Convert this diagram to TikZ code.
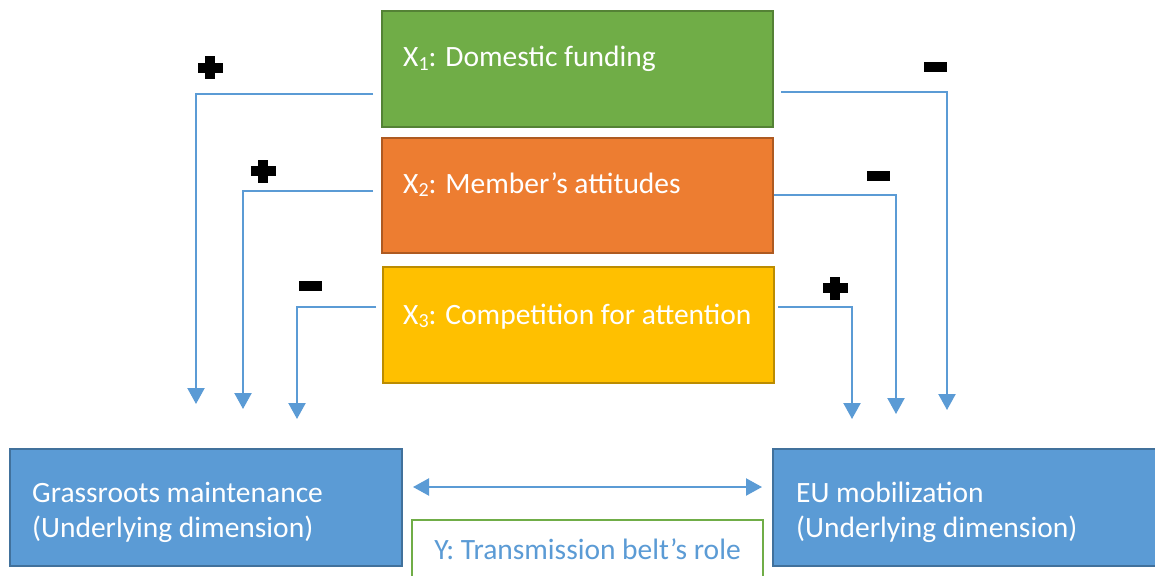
\documentclass[tikz,border=0pt]{standalone}
\usepackage{fontspec}
\setmainfont{Carlito}
\usetikzlibrary{arrows.meta}

\definecolor{fgreen}{HTML}{70AD47}
\definecolor{dgreen}{HTML}{548235}
\definecolor{forange}{HTML}{ED7D31}
\definecolor{dorange}{HTML}{AE5A21}
\definecolor{fyellow}{HTML}{FFC000}
\definecolor{dyellow}{HTML}{BC8C00}
\definecolor{fblue}{HTML}{5B9BD5}
\definecolor{dblue}{HTML}{41719C}

% index of a factor, set low and a little smaller
\newcommand{\factorindex}[1]{\raisebox{-0.13em}{\fontsize{20}{20}\selectfont #1}}

\tikzset{
  factorbox/.style={draw, line width=2.2pt, minimum width=391pt, inner sep=0pt},
  outcomebox/.style={draw=dblue, fill=fblue, line width=2.2pt, inner sep=0pt,
    minimum height=117pt},
  boxtext/.style={text=white, font=\fontsize{29.5}{35}\selectfont, inner sep=0pt,
    anchor=base west, align=left},
  link/.style={draw=fblue, line width=2.2pt,
    -{Triangle[width=17pt,length=16pt]}},
  belt/.style={draw=fblue, line width=2.2pt,
    {Triangle[width=17pt,length=16pt]}-{Triangle[width=17pt,length=16pt]}},
  pics/plussign/.style={code={
    \fill[black] (-12.5,-5) rectangle (12.5,5);
    \fill[black] (-5,-11.5) rectangle (5,11.5);}},
  pics/minussign/.style={code={
    \fill[black] (-11.5,-4.8) rectangle (11.5,4.8);}},
}

\begin{document}
\begin{tikzpicture}[x=1pt,y=-1pt]
\clip (0,0) rectangle (1155,575);
\fill[white] (0,0) rectangle (1155,575);

% explanatory factors
\node[factorbox, fill=fgreen, draw=dgreen, minimum height=116pt] (x1) at (577.5,69) {};
\node[factorbox, fill=forange, draw=dorange, minimum height=115pt] (x2) at (577.5,195.5) {};
\node[factorbox, fill=fyellow, draw=dyellow, minimum height=116pt] (x3) at (578.5,325) {};
\node[boxtext] (x1t) at (403,67) {X\factorindex{1}: Domestic funding};
\node[boxtext] (x2t) at (403,193) {X\factorindex{2}: Member’s attitudes};
\node[boxtext] (x3t) at (403,324) {X\factorindex{3}: Competition for attention};

% dimensions of the outcome
\node[outcomebox, minimum width=392pt] (gr) at (206,507.5) {};
\node[outcomebox, minimum width=397pt] (eu) at (971.5,507.5) {};
\node[boxtext] (grt) at (32,537) {Grassroots maintenance\\(Underlying dimension)};
\node[boxtext] (eut) at (796,537) {EU mobilization\\(Underlying dimension)};

\node[draw=fgreen, line width=2pt, fill=white, minimum width=351pt,
  minimum height=80pt, inner sep=0pt] (y) at (587.5,560) {};
\node[text=fblue, font=\fontsize{29.5}{35}\selectfont, inner sep=0pt, anchor=base]
  (yt) at (587.5,559) {Y: Transmission belt’s role};

% turning points and free ends of the connectors
\coordinate (l1a) at (373,94);  \coordinate (l1b) at (196,94);  \coordinate (l1c) at (196,404);
\coordinate (l2a) at (373,191); \coordinate (l2b) at (243,191); \coordinate (l2c) at (243,409);
\coordinate (l3a) at (376,307); \coordinate (l3b) at (297,307); \coordinate (l3c) at (297,419);
\coordinate (r1a) at (781,92);  \coordinate (r1b) at (947,92);  \coordinate (r1c) at (947,410);
\coordinate (r2a) at (774,195); \coordinate (r2b) at (896,195); \coordinate (r2c) at (896,414);
\coordinate (r3a) at (778,307); \coordinate (r3b) at (852,307); \coordinate (r3c) at (852,419);
\coordinate (bl) at (413,487);  \coordinate (br) at (762,487);

\draw[link] (l1a) -- (l1b) -- (l1c);
\draw[link] (l2a) -- (l2b) -- (l2c);
\draw[link] (l3a) -- (l3b) -- (l3c);
\draw[link] (r1a) -- (r1b) -- (r1c);
\draw[link] (r2a) -- (r2b) -- (r2c);
\draw[link] (r3a) -- (r3b) -- (r3c);
\draw[belt] (bl) -- (br);

% signs of the effects
\pic at (210,68)  {plussign};
\pic at (263,171) {plussign};
\pic at (310,286) {minussign};
\pic at (935,67)  {minussign};
\pic at (878,176) {minussign};
\pic at (835,288) {plussign};
\end{tikzpicture}
\end{document}
